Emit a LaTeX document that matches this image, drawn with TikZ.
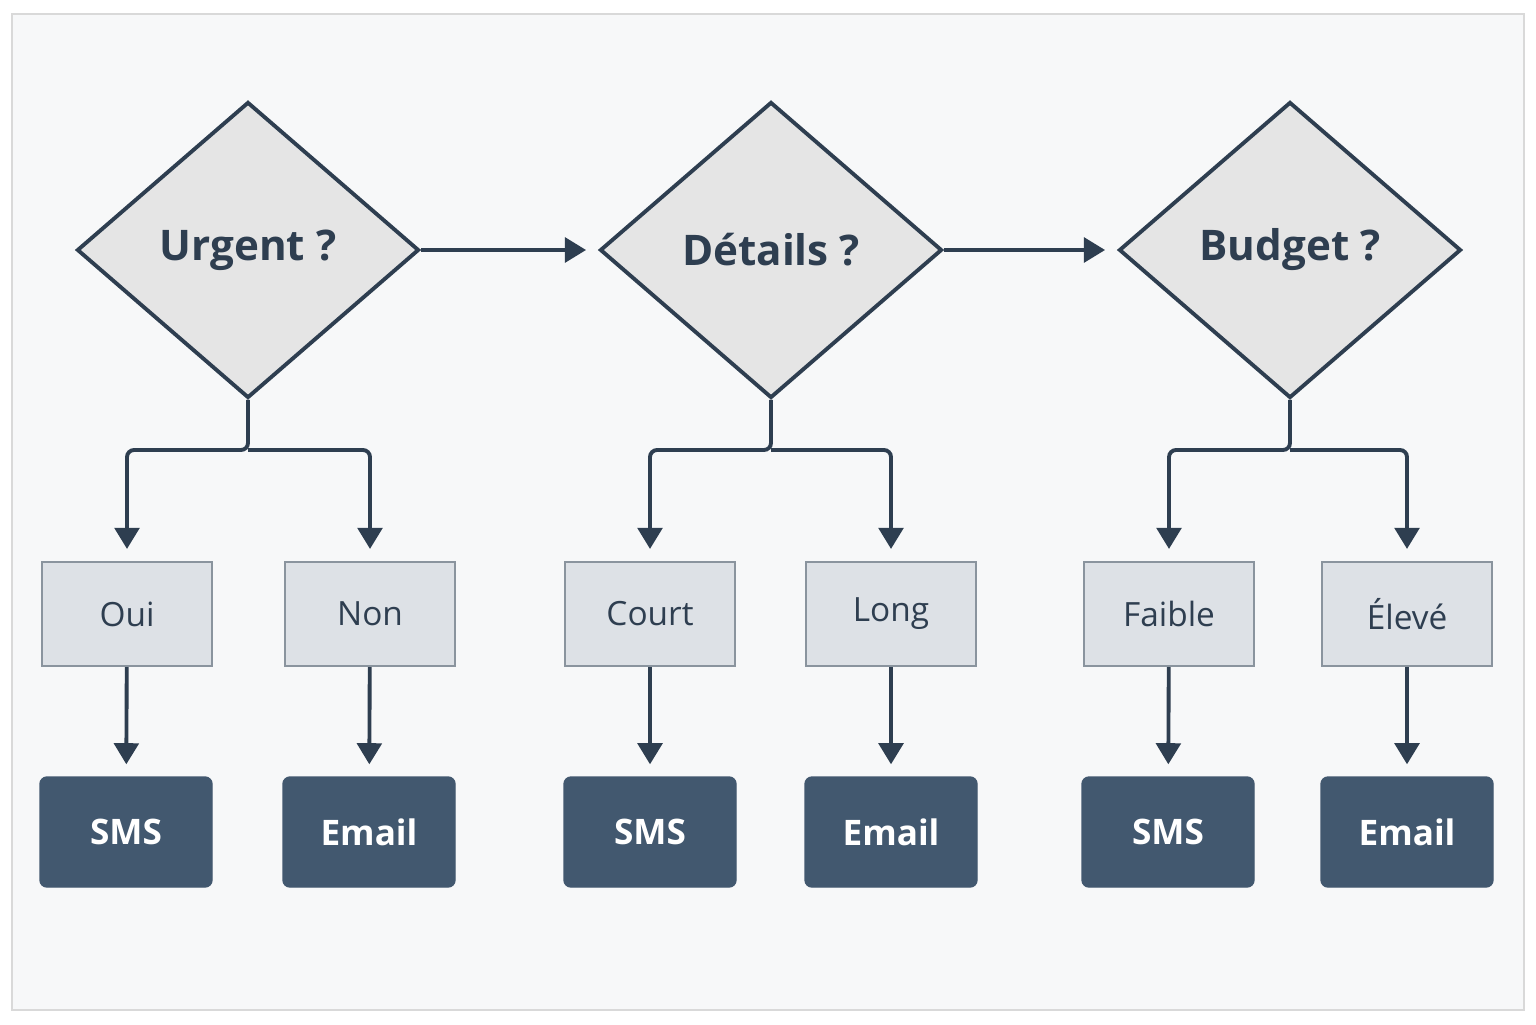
\documentclass[tikz,border=0pt]{standalone}
\usepackage{fontspec}
\setmainfont{Open Sans}
\usetikzlibrary{shapes.geometric,arrows.meta}
\definecolor{ink}{HTML}{2E3E50}
\definecolor{navy}{HTML}{42586F}
\definecolor{pale}{HTML}{DDE1E6}
\definecolor{edge}{HTML}{8A949E}
\definecolor{paper}{HTML}{F7F8F9}
\tikzstyle{question}=[diamond,aspect=1.155,minimum width=3.42cm,minimum height=2.96cm,inner sep=0pt,fill=black!10,draw=ink,line width=1.1pt,text=ink,font=\fontsize{12}{14}\selectfont\bfseries]
\tikzstyle{answer}=[rectangle,minimum width=1.7cm,minimum height=1.04cm,fill=pale,draw=edge,line width=0.6pt,text=ink,font=\fontsize{9.5}{11}\selectfont]
\tikzstyle{channel}=[rectangle,rounded corners=2pt,minimum width=1.72cm,minimum height=1.1cm,fill=navy,draw=navy,text=white,font=\fontsize{10}{12}\selectfont\bfseries]
\tikzstyle{inarrow}=[-{Triangle[length=6pt,width=7pt]},draw=ink,line width=1.1pt,shorten >=.12cm,rounded corners=2pt]
\begin{document}
\begin{tikzpicture}
	\useasboundingbox (0,0) rectangle (15.36,10.24);
	\draw [draw=black!15,fill=paper] (0.12,0.14) rectangle (15.24,10.1);

	% questions
	\node [style=question] (U) at (2.48, 7.74) {Urgent ?};
	\node [style=question] (D) at (7.71, 7.74) {Détails ?};
	\node [style=question] (B) at (12.90, 7.74) {Budget ?};

	% answers
	\node [style=answer] (oui) at (1.27, 4.10) {Oui};
	\node [style=answer] (non) at (3.70, 4.10) {Non};
	\node [style=answer] (court) at (6.50, 4.10) {Court};
	\node [style=answer] (long) at (8.91, 4.10) {Long};
	\node [style=answer] (faible) at (11.69, 4.10) {Faible};
	\node [style=answer] (eleve) at (14.07, 4.10) {Élevé};

	% channels
	\node [style=channel] (s1) at (1.26, 1.92) {SMS};
	\node [style=channel] (e1) at (3.69, 1.92) {Email};
	\node [style=channel] (s2) at (6.50, 1.92) {SMS};
	\node [style=channel] (e2) at (8.91, 1.92) {Email};
	\node [style=channel] (s3) at (11.68, 1.92) {SMS};
	\node [style=channel] (e3) at (14.07, 1.92) {Email};

	% junctions
	\coordinate (Uj) at (2.48, 5.74);
	\coordinate (Dj) at (7.71, 5.74);
	\coordinate (Bj) at (12.90, 5.74);

	\draw [style=inarrow] (U) to (D);
	\draw [style=inarrow] (D) to (B);
	\draw [style=inarrow] (U.south) -- (Uj) -| (oui.north);
	\draw [style=inarrow] (Uj) -| (non.north);
	\draw [style=inarrow] (D.south) -- (Dj) -| (court.north);
	\draw [style=inarrow] (Dj) -| (long.north);
	\draw [style=inarrow] (B.south) -- (Bj) -| (faible.north);
	\draw [style=inarrow] (Bj) -| (eleve.north);
	\draw [style=inarrow] (oui) to (s1);
	\draw [style=inarrow] (non) to (e1);
	\draw [style=inarrow] (court) to (s2);
	\draw [style=inarrow] (long) to (e2);
	\draw [style=inarrow] (faible) to (s3);
	\draw [style=inarrow] (eleve) to (e3);
\end{tikzpicture}
\end{document}
